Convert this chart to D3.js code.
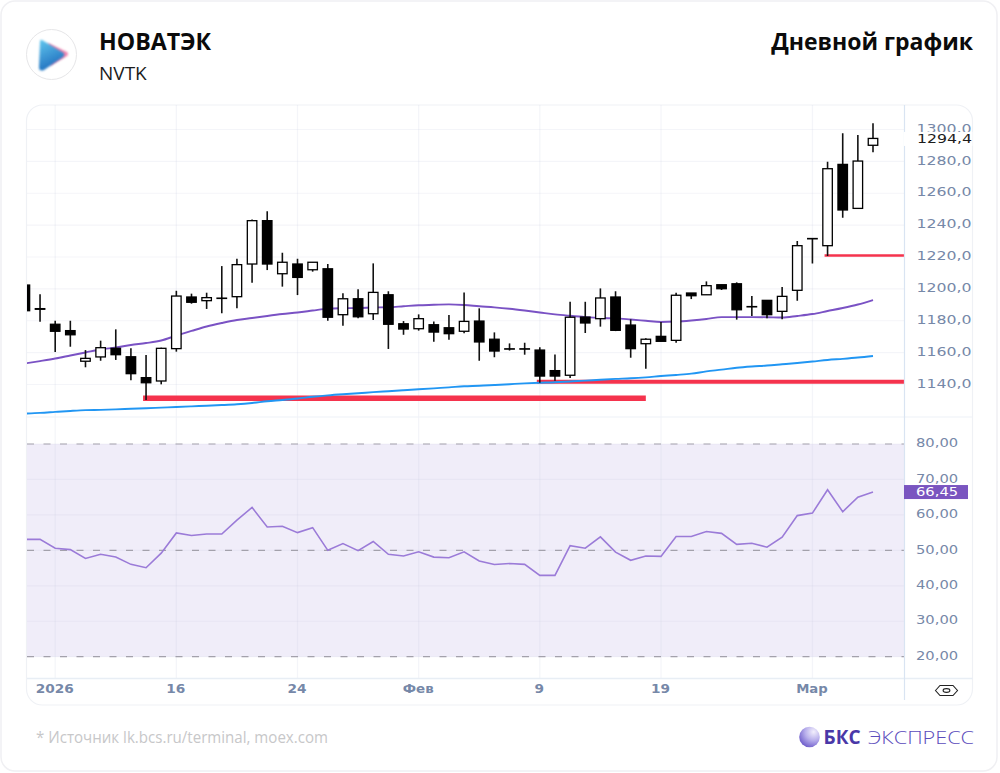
<!DOCTYPE html>
<html lang="ru">
<head>
<meta charset="utf-8">
<title>НОВАТЭК</title>
<script src="https://cdn.jsdelivr.net/npm/d3@7"></script>
<style>
  html, body { margin: 0; padding: 0; background: #fff; }
  svg { display: block; }
  text { font-family: "Open Sans", sans-serif; }
  .tick-text { font-family: "DejaVu Sans", sans-serif; }
</style>
</head>
<body>
<div id="chart"></div>
<script>
const title = 'НОВАТЭК';
const ticker = 'NVTK';
const chartType = 'Дневной график';
const source = '* Источник lk.bcs.ru/terminal, moex.com';

// daily candles
const opens = [1202.4, 1187.6, 1177.8, 1173.8, 1154.6, 1157.3, 1162.7, 1157.4, 1144.3, 1142.2,
  1162.5, 1194.9, 1192.6, 1194.0, 1195.1, 1215.6, 1242.8, 1209.5, 1215.6, 1212.0,
  1212.6, 1183.8, 1193.8, 1184.4, 1196.3, 1178.1, 1175.0, 1177.5, 1175.6, 1173.4,
  1179.8, 1168.4, 1162.4, 1162.4, 1161.6, 1148.7, 1145.8, 1182.3, 1181.3, 1194.9,
  1177.3, 1165.6, 1170.2, 1167.7, 1197.4, 1196.3, 1202.6, 1203.2, 1188.7, 1192.8,
  1185.9, 1199.1, 1231.6, 1227.1, 1278.1, 1250.5, 1290.1];
const highs = [1203.0, 1196.6, 1180.0, 1180.0, 1161.6, 1167.5, 1174.6, 1162.7, 1158.5, 1163.1,
  1198.8, 1197.0, 1197.6, 1214.3, 1218.9, 1243.6, 1248.7, 1222.7, 1218.9, 1216.7,
  1215.6, 1197.2, 1199.7, 1216.0, 1198.5, 1179.8, 1184.0, 1179.6, 1183.6, 1197.8,
  1187.8, 1172.7, 1165.8, 1166.2, 1163.3, 1158.9, 1191.9, 1191.9, 1200.3, 1198.5,
  1180.9, 1169.0, 1179.2, 1197.6, 1197.4, 1204.7, 1202.6, 1204.1, 1195.5, 1192.8,
  1201.2, 1230.0, 1231.6, 1279.8, 1297.6, 1296.5, 1303.9];
const lows = [1186.0, 1179.4, 1160.4, 1163.7, 1150.8, 1154.9, 1155.4, 1142.6, 1130.3, 1140.1,
  1160.6, 1190.7, 1187.4, 1184.7, 1187.8, 1203.9, 1211.8, 1201.4, 1196.1, 1210.8,
  1180.0, 1176.9, 1181.5, 1180.5, 1162.3, 1171.2, 1173.8, 1166.9, 1168.1, 1172.1,
  1154.9, 1157.1, 1161.3, 1158.7, 1141.1, 1142.4, 1144.1, 1172.3, 1176.3, 1173.5,
  1156.8, 1149.9, 1167.1, 1166.2, 1193.6, 1196.3, 1199.3, 1180.7, 1183.0, 1181.5,
  1180.9, 1192.6, 1216.0, 1220.6, 1244.6, 1250.5, 1285.7];
const closes = [1186.3, 1187.2, 1173.4, 1171.2, 1156.4, 1163.1, 1158.7, 1146.8, 1141.1, 1162.7,
  1195.5, 1191.6, 1194.5, 1194.2, 1215.2, 1242.8, 1215.6, 1216.7, 1207.2, 1216.7,
  1182.2, 1193.8, 1182.5, 1197.8, 1177.8, 1174.8, 1181.3, 1172.9, 1171.9, 1179.6,
  1166.7, 1161.0, 1162.2, 1162.2, 1145.3, 1145.3, 1182.2, 1178.6, 1194.3, 1174.0,
  1162.5, 1168.4, 1167.1, 1196.0, 1195.7, 1202.0, 1200.1, 1186.9, 1188.9, 1183.8,
  1195.3, 1227.1, 1231.4, 1275.4, 1249.5, 1280.2, 1294.4];

const maFast = [1153.2, 1154.7, 1156.3, 1158.2, 1160.1, 1162.0, 1163.2, 1164.8, 1166.0, 1167.6,
  1170.7, 1173.6, 1176.4, 1178.6, 1180.5, 1181.7, 1183.0, 1184.2, 1185.2, 1186.4,
  1187.6, 1187.9, 1188.0, 1188.3, 1188.5, 1189.1, 1189.7, 1190.0, 1190.3, 1189.9,
  1189.1, 1188.4, 1187.5, 1186.4, 1185.2, 1184.0, 1183.1, 1182.3, 1181.7, 1181.5,
  1180.8, 1180.0, 1179.2, 1179.5, 1180.2, 1181.1, 1182.3, 1182.3, 1182.3, 1182.2,
  1182.0, 1183.0, 1184.2, 1186.1, 1188.0, 1190.2, 1193.0];
const maSlow = [1121.8, 1122.2, 1122.8, 1123.4, 1123.9, 1124.1, 1124.4, 1124.8, 1125.1, 1125.5,
  1125.9, 1126.3, 1126.7, 1127.1, 1127.6, 1128.4, 1129.5, 1130.3, 1131.2, 1132.3,
  1133.2, 1133.9, 1134.5, 1135.2, 1135.8, 1136.4, 1137.0, 1137.6, 1138.2, 1138.9,
  1139.2, 1139.7, 1140.2, 1140.7, 1141.1, 1141.4, 1141.9, 1142.4, 1143.0, 1143.5,
  1143.9, 1144.5, 1145.3, 1146.0, 1146.8, 1148.2, 1149.3, 1150.5, 1151.3, 1151.9,
  1152.7, 1153.5, 1154.4, 1155.4, 1156.1, 1156.9, 1157.9];
const rsi = [53.1, 53.1, 50.6, 50.2, 47.7, 48.9, 48.1, 46.05, 45.1, 49.2,
  54.9, 54.2, 54.6, 54.6, 58.5, 62.1, 56.6, 56.8, 55.0, 56.4,
  50.0, 51.9, 49.9, 52.5, 48.9, 48.4, 49.6, 48.1, 47.9, 49.6,
  47.0, 46.0, 46.3, 46.05, 42.95, 42.95, 51.3, 50.6, 53.8, 49.5,
  47.2, 48.4, 48.3, 53.9, 53.9, 55.3, 54.8, 51.7, 52.0, 50.9,
  53.7, 59.8, 60.5, 67.1, 60.9, 65.0, 66.45];

// support levels: price, first candle, last candle (null runs to the price axis)
const levelPrices = [1131.3, 1141.8, 1221];
const levelFrom = [8, 34, 53];
const levelTo = [41, null, null];
const levelWeights = [5.5, 4, 2.5];

const priceTicks = [1140, 1160, 1180, 1200, 1220, 1240, 1260, 1280, 1300];
const rsiTicks = [20, 30, 40, 50, 60, 70, 80];
const rsiBands = [20, 50, 80];
const timeTickIndex = [2, 10, 18, 26, 34, 42, 52];
const timeTickLabels = ['2026', '16', '24', 'Фев', '9', '19', 'Мар'];

const lastPrice = 1294.4;
const lastRsi = 66.45;

const width = 1000;
const height = 773;
const plotLeft = 27;
const plotRight = 904.5;
const plotTop = 105;
const axisBottomY = 678.5;
const paneDivider = 417;
const panelRight = 973;
const panelBottom = 705;
const bodyWidth = 9.5;

const svg = d3.select('#chart').append('svg')
  .attr('width', width)
  .attr('height', height);

const x = d3.scaleLinear().domain([0, closes.length - 1]).range([24.9, 873]);
const y = d3.scaleLinear().domain([1140, 1300]).range([384.5, 129.5]);
const yRsi = d3.scaleLinear().domain([20, 80]).range([656.7, 444]);

const defs = svg.append('defs');
defs.append('clipPath').attr('id', 'plot-clip').append('rect')
  .attr('x', plotLeft).attr('y', plotTop)
  .attr('width', plotRight - plotLeft).attr('height', axisBottomY - plotTop);

const logoFill = defs.append('linearGradient').attr('id', 'logo-fill')
  .attr('x1', 0).attr('y1', 0).attr('x2', 0.4).attr('y2', 1);
logoFill.append('stop').attr('offset', '0%').attr('stop-color', '#62c8ef');
logoFill.append('stop').attr('offset', '100%').attr('stop-color', '#1f6fbe');

const orbFill = defs.append('radialGradient').attr('id', 'orb-fill')
  .attr('cx', 0.7).attr('cy', 0.25).attr('r', 0.9);
orbFill.append('stop').attr('offset', '0%').attr('stop-color', '#f2effc');
orbFill.append('stop').attr('offset', '45%').attr('stop-color', '#b9b0ec');
orbFill.append('stop').attr('offset', '100%').attr('stop-color', '#5f4cc4');

defs.append('filter').attr('id', 'soft').append('feGaussianBlur').attr('stdDeviation', 1.1);

// card and chart panel
svg.append('rect')
  .attr('x', 1).attr('y', 1).attr('width', 996).attr('height', 770).attr('rx', 14)
  .attr('fill', '#fff').attr('stroke', '#f0f0f3').attr('stroke-width', 1.5);

svg.append('rect')
  .attr('x', plotLeft - 0.5).attr('y', plotTop)
  .attr('width', panelRight - plotLeft).attr('height', panelBottom - plotTop).attr('rx', 16)
  .attr('fill', '#fff').attr('stroke', '#eff1f5').attr('stroke-width', 1.2);

// header
const logo = svg.append('g');
logo.append('circle').attr('cx', 51.5).attr('cy', 54.5).attr('r', 25)
  .attr('fill', '#fff').attr('stroke', '#e6e6e8').attr('stroke-width', 1);
logo.append('path').attr('d', 'M48 43 L67 52 Q69 54 67 56 L50 66 Z')
  .attr('fill', '#ea4f8c').attr('opacity', 0.7).attr('filter', 'url(#soft)');
logo.append('path').attr('d', 'M42 40 Q40 39 40 42 L39 67 Q39 72 44 70 L63 57 Q66 54 62 52 Z')
  .attr('fill', 'url(#logo-fill)').attr('filter', 'url(#soft)');

svg.append('text').text(title)
  .attr('x', 99).attr('y', 50)
  .attr('font-size', 23.2).attr('font-weight', 700).attr('fill', '#0b0b0b');
svg.append('text').text(ticker)
  .attr('x', 99).attr('y', 80)
  .attr('font-size', 19).attr('fill', '#1c1c1c');
svg.append('text').text(chartType)
  .attr('x', panelRight).attr('y', 49.5)
  .attr('text-anchor', 'end')
  .attr('font-size', 23).attr('font-weight', 700).attr('fill', '#0b0b0b');

// rsi band sits under the grid
svg.append('rect')
  .attr('x', plotLeft).attr('y', yRsi(80))
  .attr('width', plotRight - plotLeft).attr('height', yRsi(20) - yRsi(80))
  .attr('fill', '#f0edf9');

const plot = svg.append('g').attr('clip-path', 'url(#plot-clip)');

const grid = plot.append('g')
  .attr('stroke', 'rgba(200,205,225,0.2)')
  .attr('stroke-width', 1.2);

grid.selectAll('.v')
  .data(timeTickIndex)
  .enter()
  .append('line')
  .attr('x1', d => x(d)).attr('x2', d => x(d))
  .attr('y1', plotTop).attr('y2', axisBottomY);

grid.selectAll('.h')
  .data(priceTicks)
  .enter()
  .append('line')
  .attr('x1', plotLeft).attr('x2', plotRight)
  .attr('y1', d => y(d)).attr('y2', d => y(d));

grid.selectAll('.r')
  .data(rsiTicks)
  .enter()
  .append('line')
  .attr('x1', plotLeft).attr('x2', plotRight)
  .attr('y1', d => yRsi(d)).attr('y2', d => yRsi(d));

plot.append('g').selectAll('line')
  .data(rsiBands)
  .enter()
  .append('line')
  .attr('x1', plotLeft).attr('x2', plotRight)
  .attr('y1', d => yRsi(d)).attr('y2', d => yRsi(d))
  .attr('stroke', '#a3a1ab')
  .attr('stroke-width', 1.2)
  .attr('stroke-dasharray', '7 9.5');

// pane dividers and axis lines
svg.append('line')
  .attr('x1', plotLeft).attr('x2', panelRight - 0.5)
  .attr('y1', paneDivider).attr('y2', paneDivider)
  .attr('stroke', '#eef2f7').attr('stroke-width', 1.2);
svg.append('line')
  .attr('x1', plotLeft).attr('x2', panelRight - 0.5)
  .attr('y1', axisBottomY).attr('y2', axisBottomY)
  .attr('stroke', '#e8eef5').attr('stroke-width', 1.4);
svg.append('line')
  .attr('x1', plotRight).attr('x2', plotRight)
  .attr('y1', plotTop).attr('y2', 700)
  .attr('stroke', '#d9e4f2').attr('stroke-width', 1.2);

// levels
plot.append('g').selectAll('line')
  .data(levelPrices)
  .enter()
  .append('line')
  .attr('x1', (d, i) => x(levelFrom[i]) - 3)
  .attr('x2', (d, i) => levelTo[i] === null ? plotRight : x(levelTo[i]))
  .attr('y1', d => y(d)).attr('y2', d => y(d))
  .attr('stroke', '#f5334d')
  .attr('stroke-width', (d, i) => levelWeights[i]);

// moving averages
const priceLine = d3.line().x((d, i) => x(i)).y(d => y(d)).curve(d3.curveMonotoneX);

plot.append('path').datum(maSlow)
  .attr('d', priceLine)
  .attr('fill', 'none').attr('stroke', '#2196f3').attr('stroke-width', 1.9);
plot.append('path').datum(maFast)
  .attr('d', priceLine)
  .attr('fill', 'none').attr('stroke', '#7a52c4').attr('stroke-width', 1.9);

// candles
const candles = plot.append('g').selectAll('g')
  .data(closes)
  .enter()
  .append('g');

candles.append('line')
  .attr('x1', (d, i) => x(i)).attr('x2', (d, i) => x(i))
  .attr('y1', (d, i) => y(highs[i]))
  .attr('y2', (d, i) => y(lows[i]))
  .attr('stroke', '#111')
  .attr('stroke-width', 1.6);

candles.append('rect')
  .attr('x', (d, i) => x(i) - bodyWidth / 2)
  .attr('y', (d, i) => y(Math.max(opens[i], closes[i])))
  .attr('width', bodyWidth)
  .attr('height', (d, i) => Math.abs(y(opens[i]) - y(closes[i])))
  .attr('fill', (d, i) => closes[i] >= opens[i] ? '#fff' : '#000')
  .attr('stroke', '#000')
  .attr('stroke-width', 1.3);

// rsi
const rsiLine = d3.line().x((d, i) => x(i)).y(d => yRsi(d));

plot.append('path').datum(rsi)
  .attr('d', rsiLine)
  .attr('fill', 'none').attr('stroke', '#9b7bd8').attr('stroke-width', 1.6);

// axes
const comma = (v, digits) => v.toFixed(digits).replace('.', ',');

function styleAxis(g, stretch) {
  g.select('.domain').remove();
  g.selectAll('.tick line').remove();
  g.selectAll('text')
    .attr('class', 'tick-text')
    .attr('fill', '#7688a8')
    .attr('font-size', 11.5)
    .attr('font-weight', 500)
    .each(function() {
      d3.select(this).attr('textLength', this.getComputedTextLength() * stretch)
        .attr('lengthAdjust', 'spacingAndGlyphs');
    });
}

svg.append('g')
  .attr('transform', `translate(${plotRight},-1)`)
  .call(d3.axisRight(y).tickValues(priceTicks).tickSize(0).tickPadding(12)
    .tickFormat(d => comma(d, 1)))
  .call(styleAxis, 1.37);

svg.append('g')
  .attr('transform', `translate(${plotRight},-1)`)
  .call(d3.axisRight(yRsi).tickValues(rsiTicks).tickSize(0).tickPadding(11.5)
    .tickFormat(d => comma(d, 2)))
  .call(styleAxis, 1.28);

svg.append('g')
  .attr('transform', `translate(-1,${axisBottomY})`)
  .call(d3.axisBottom(x).tickValues(timeTickIndex).tickSize(0).tickPadding(6)
    .tickFormat((d, i) => timeTickLabels[i]))
  .call(styleAxis, 1.3)
  .selectAll('text').attr('font-weight', 700);

// last price marker
svg.append('rect')
  .attr('x', plotRight - 0.5).attr('y', y(lastPrice) - 6.5)
  .attr('width', panelRight - plotRight).attr('height', 14)
  .attr('fill', '#fff');

const lastLabel = svg.append('text').text(comma(lastPrice, 1))
  .attr('class', 'tick-text')
  .attr('x', plotRight + 12.5).attr('y', y(lastPrice) + 1)
  .attr('dy', '0.32em')
  .attr('font-size', 11.5).attr('font-weight', 500).attr('fill', '#1d1d1d');
lastLabel.attr('textLength', lastLabel.node().getComputedTextLength() * 1.37)
  .attr('lengthAdjust', 'spacingAndGlyphs');

// last rsi marker
svg.append('rect')
  .attr('x', plotRight - 0.5).attr('y', yRsi(lastRsi) - 7)
  .attr('width', 64).attr('height', 14)
  .attr('fill', '#7a55c0');

const rsiLabel = svg.append('text').text(comma(lastRsi, 2))
  .attr('class', 'tick-text')
  .attr('x', plotRight + 11.5).attr('y', yRsi(lastRsi))
  .attr('dy', '0.32em')
  .attr('font-size', 11.5).attr('font-weight', 500).attr('fill', '#fff');
rsiLabel.attr('textLength', rsiLabel.node().getComputedTextLength() * 1.28)
  .attr('lengthAdjust', 'spacingAndGlyphs');

// scale settings icon
const eye = svg.append('g').attr('fill', 'none').attr('stroke', '#222').attr('stroke-width', 1.1);
eye.append('path').attr('d', 'M935.5 690.5 L940 685.5 H953 L957.5 690.5 L953 695.5 H940 Z');
eye.append('ellipse').attr('cx', 946.5).attr('cy', 690.5).attr('rx', 3.4).attr('ry', 1.9);

// footer
svg.append('text').text(source)
  .attr('x', 36).attr('y', 743)
  .attr('font-size', 16).attr('fill', '#c7c7c9')
  .attr('textLength', 292).attr('lengthAdjust', 'spacingAndGlyphs');

svg.append('circle')
  .attr('cx', 809.5).attr('cy', 737).attr('r', 10.3)
  .attr('fill', 'url(#orb-fill)');

svg.append('text').text('БКС')
  .attr('x', 823.5).attr('y', 744)
  .attr('font-size', 19).attr('font-weight', 700).attr('fill', '#4a38a8');
svg.append('text').text('ЭКСПРЕСС')
  .attr('x', 868).attr('y', 744)
  .attr('font-size', 19).attr('font-weight', 300).attr('fill', '#5b4cbc')
  .attr('textLength', 106).attr('lengthAdjust', 'spacingAndGlyphs');
</script>
</body>
</html>
